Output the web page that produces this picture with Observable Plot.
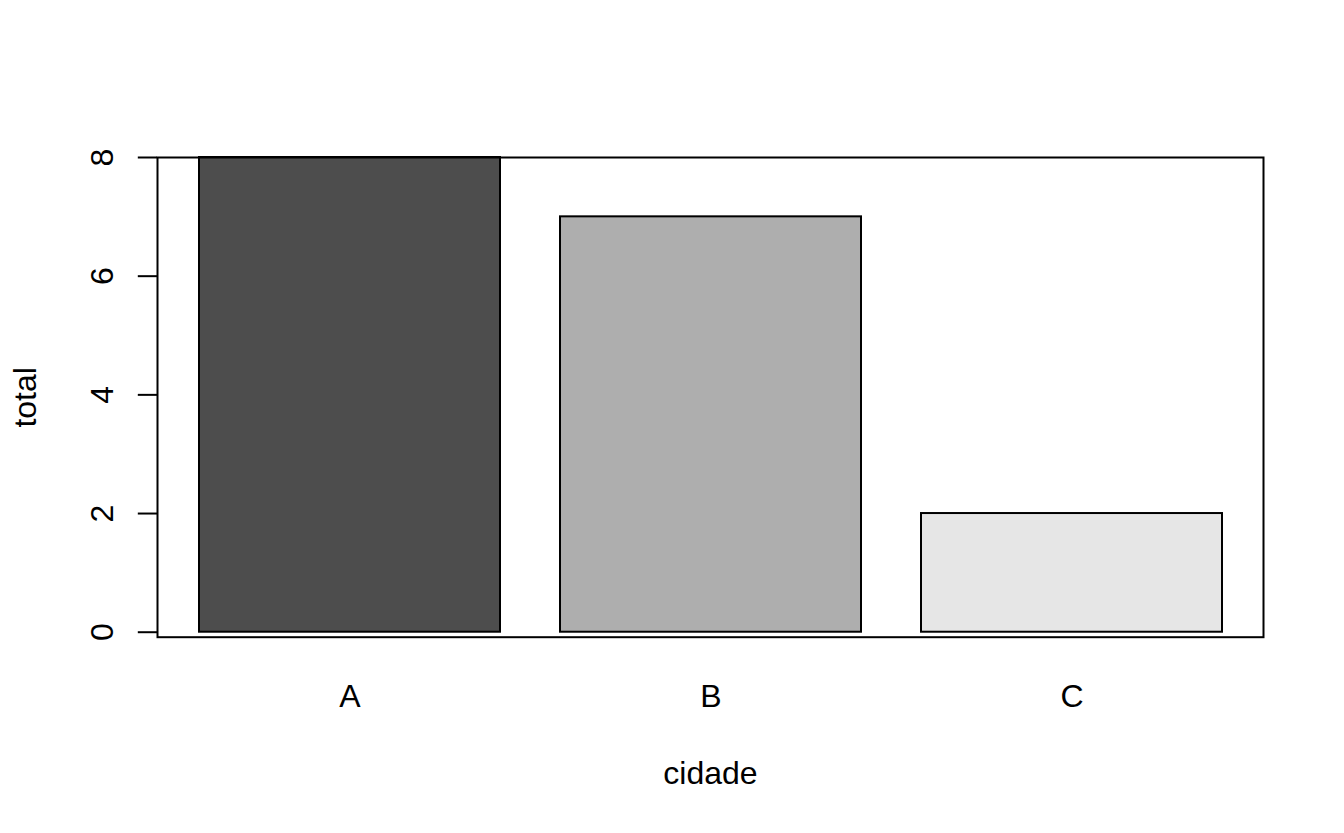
<!DOCTYPE html>
<html>
<head>
<meta charset="utf-8">
<script src="https://cdn.jsdelivr.net/npm/d3@7"></script>
<script src="https://cdn.jsdelivr.net/npm/@observablehq/plot@0.6"></script>
<style>
  html, body { margin: 0; padding: 0; background: white; }
</style>
</head>
<body>
<div id="chart"></div>
<script>
const cidades = ["A", "B", "C"];
const totais = [8, 7, 2];
const cores = ["#4D4D4D", "#AEAEAE", "#E6E6E6"];
const yTicks = [0, 2, 4, 6, 8];
const xTitle = "cidade";
const yTitle = "total";

const data = cidades.map((c, i) => ({cidade: c, total: totais[i]}));

const font = "'Liberation Sans', Arial, Helvetica, sans-serif";

const chart = Plot.plot({
  width: 1344,
  height: 833,
  marginLeft: 157,
  marginRight: 81,
  marginTop: 157,
  marginBottom: 196.3,
  style: {fontFamily: font, fontSize: "32px", color: "black", background: "white"},
  x: {type: "band", domain: cidades, paddingInner: 1/6, paddingOuter: 0.1133, align: 0.5, axis: null},
  y: {domain: [-0.084, 8], axis: null},
  color: {type: "ordinal", domain: cidades, range: cores},
  marks: [
    Plot.barY(data, {x: "cidade", y: "total", fill: "cidade", stroke: "black", strokeWidth: 2}),
    Plot.frame({stroke: "black", strokeWidth: 2}),
    Plot.axisY({ticks: yTicks, tickSize: 19.2, tickFormat: () => "", strokeWidth: 2, anchor: "left", label: null}),
    Plot.text(yTicks, {y: d => d, text: d => String(d), frameAnchor: "left", dx: -45, rotate: -90, textAnchor: "middle", lineAnchor: "bottom", fontSize: 32, fill: "black"}),
    Plot.axisX({tickSize: 0, tickPadding: 46.6, fontSize: 32, label: null, anchor: "bottom"}),
    Plot.text([xTitle], {text: d => d, frameAnchor: "bottom", dy: 146.3, lineAnchor: "bottom", textAnchor: "middle", fontSize: 32, fill: "black"}),
    Plot.text([yTitle], {text: d => d, frameAnchor: "left", dx: -122, rotate: -90, lineAnchor: "bottom", textAnchor: "middle", fontSize: 32, fill: "black"})
  ]
});
document.getElementById("chart").appendChild(chart);
</script>
</body>
</html>
